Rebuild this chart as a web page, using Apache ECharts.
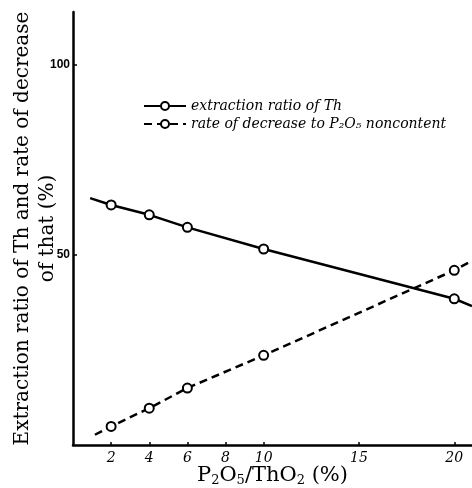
<!DOCTYPE html>
<html>
<head>
<meta charset="utf-8">
<script src="https://cdn.jsdelivr.net/npm/echarts@6/dist/echarts.min.js"></script>
<style>
html, body { margin: 0; padding: 0; background: #fff; }
#main { width: 472px; height: 488px; }
</style>
</head>
<body>
<div id="main"></div>
<script>
// P2O5/ThO2 (%) values; first and last entries are the ends of the drawn lines
var thX = [0.9, 2, 4, 6, 10, 20, 20.93];
var thY = [65.0, 63.2, 60.6, 57.3, 51.6, 38.5, 36.6];
var decX = [1.15, 2, 4, 6, 10, 20, 20.93];
var decY = [2.7, 4.9, 9.7, 15.0, 23.6, 46.0, 48.5];
var xTicks = [2, 4, 6, 8, 10, 15, 20];
var yTicks = [50, 100];
var seriesNames = ['extraction ratio of Th', 'rate of decrease to P₂O₅ noncontent'];

function toData(xs, ys) {
	var out = [];
	for (var i = 0; i < xs.length; i++) {
		var item = { value: [xs[i], ys[i]] };
		// line ends are not measured points
		if (i == 0 || i == xs.length - 1) {
			item.symbol = 'none';
		}
		out.push(item);
	}
	return out;
}

var chart = echarts.init(document.getElementById('main'));
var serif = 'DejaVu Serif';

var option = {
	animation : false,
	backgroundColor : '#fff',
	grid : {
		left : 73,
		right : 0,
		top : 12,
		bottom : 43,
		containLabel : false,
		outerBoundsMode : 'none'
	},
	legend : {
		orient : 'vertical',
		left : 138,
		top : 94,
		itemGap : 4,
		itemWidth : 42,
		itemHeight : 10,
		data : seriesNames,
		textStyle : {
			fontFamily : serif,
			fontStyle : 'italic',
			fontSize : 14,
			color : '#000'
		}
	},
	xAxis : {
		type : 'value',
		min : 0,
		max : 20.93,
		name : 'P{sub|2}O{sub|5}/ThO{sub|2} (%)',
		nameLocation : 'middle',
		nameGap : 19,
		nameMoveOverlap : false,
		nameTextStyle : {
			fontFamily : serif,
			fontSize : 21,
			color : '#000',
			rich : {
				sub : {
					fontFamily : serif,
					fontSize : 13,
					color : '#000',
					verticalAlign : 'bottom',
					padding : [10, 0, 0, 0]
				}
			}
		},
		axisLine : {
			onZero : false,
			lineStyle : { color : '#000', width : 2.5 }
		},
		axisTick : {
			inside : true,
			length : 3,
			customValues : xTicks,
			lineStyle : { color : '#000', width : 1.5 }
		},
		axisLabel : {
			customValues : xTicks,
			margin : 6,
			fontFamily : serif,
			fontStyle : 'italic',
			fontSize : 14,
			color : '#000'
		},
		splitLine : { show : false }
	},
	yAxis : {
		type : 'value',
		min : 0,
		max : 114,
		name : 'Extraction ratio of Th and rate of decrease\nof that (%)',
		nameLocation : 'middle',
		nameGap : 13,
		nameMoveOverlap : false,
		nameRotate : 90,
		nameTextStyle : {
			fontFamily : serif,
			fontSize : 20,
			lineHeight : 25,
			color : '#000',
			align : 'center'
		},
		axisLine : {
			lineStyle : { color : '#000', width : 2.5 }
		},
		axisTick : {
			inside : true,
			length : 4,
			customValues : yTicks,
			lineStyle : { color : '#000', width : 1.5 }
		},
		axisLabel : {
			customValues : yTicks,
			margin : 3,
			fontFamily : 'Liberation Sans Narrow, Liberation Sans',
			fontWeight : 'bold',
			fontSize : 12,
			color : '#000'
		},
		splitLine : { show : false }
	},
	series : [ {
		name : seriesNames[0],
		type : 'line',
		data : toData(thX, thY),
		symbol : 'circle',
		symbolSize : 9,
		itemStyle : { color : '#fff', borderColor : '#000', borderWidth : 2 },
		lineStyle : { color : '#000', width : 2.5, type : 'solid' }
	}, {
		name : seriesNames[1],
		type : 'line',
		data : toData(decX, decY),
		symbol : 'circle',
		symbolSize : 9,
		itemStyle : { color : '#fff', borderColor : '#000', borderWidth : 2 },
		lineStyle : { color : '#000', width : 2.5, type : [8, 5] }
	} ]
};
chart.setOption(option);
</script>
</body>
</html>
